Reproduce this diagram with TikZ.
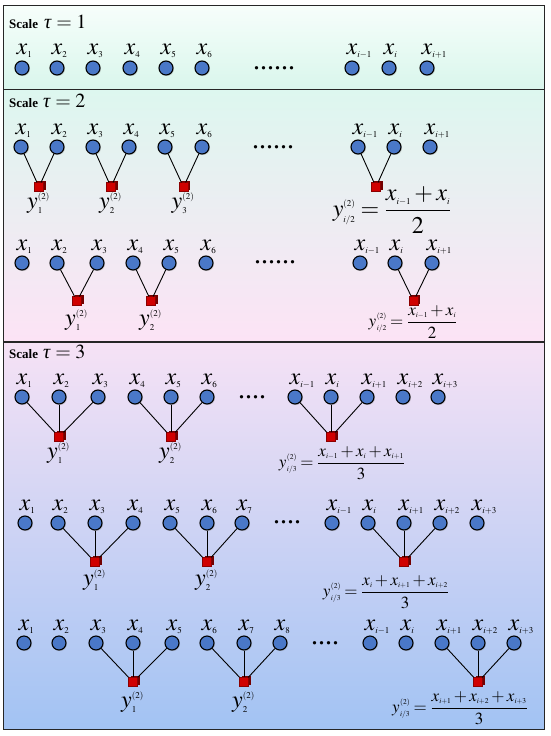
\documentclass[tikz,border=0pt]{standalone}
\usepackage{mathptmx}
\usepackage[no-math]{fontspec}
\setmainfont{Liberation Serif}
\usepackage{tikz}
\usetikzlibrary{shadows}
\definecolor{dotblue}{HTML}{4A78C8}
\definecolor{cubered}{HTML}{D00000}
\definecolor{mintA}{HTML}{F7FEFB}
\definecolor{mintB}{HTML}{D9F6EC}
\definecolor{mintC}{HTML}{DDF7EF}
\definecolor{pinkA}{HTML}{FCE3F5}
\definecolor{pinkB}{HTML}{F6E2F5}
\definecolor{blueB}{HTML}{A2C3F3}
\tikzstyle{dot} = [circle, draw, line width=1.1pt, fill=dotblue, minimum size=14pt,
    inner sep=0pt, drop shadow={shadow xshift=1pt, shadow yshift=-1pt, opacity=0.35}]
\tikzstyle{cube} = [rectangle, draw=red!55!black, line width=0.3pt, fill=cubered,
    minimum size=9pt, inner sep=0pt,
    general shadow={fill=red!45!black, shadow xshift=2pt, shadow yshift=2pt}]
\tikzstyle{line} = [draw, line width=0.9pt]
\tikzstyle{panel} = [draw=black!85, line width=0.8pt]
\newcommand{\smlsize}{9}
\newcommand{\sml}[1]{\mbox{\fontsize{\smlsize}{\smlsize}\selectfont$#1$}}
\newcommand{\yy}[1]{y^{\sml{(2)}}_{\sml{#1}}}
\newcommand{\yys}[1]{y\kern0.5pt\rlap{\raisebox{8.5pt}{\sml{(2)}}}\raisebox{-4pt}{\sml{#1}}}
\newcommand{\tauis}[1]{$\mbox{\textit{τ}}=#1$}

\begin{document}
\begin{tikzpicture}[x=1pt, y=-1pt,
    xlab/.style={anchor=base west, inner sep=0pt, font=\fontsize{24}{28}\selectfont},
    ylab/.style={anchor=base west, inner sep=0pt, font=\fontsize{24}{28}\selectfont},
    bigfrm/.style={inner sep=0pt, font=\fontsize{24}{28}\selectfont},
    frm/.style={inner sep=0pt, font=\fontsize{17}{20}\selectfont\renewcommand{\smlsize}{7.5}},
    head/.style={anchor=base west, inner sep=0pt, font=\fontsize{13}{15}\selectfont},
    dots/.style={inner sep=0pt, font=\fontsize{28}{30}\selectfont}
    ]

    \useasboundingbox (0,0) rectangle (550,736);

    \path[panel, top color=mintA, bottom color=mintB] (3,5) rectangle (544,89);
    \path[panel, top color=mintC, bottom color=pinkA] (3,89) rectangle (544,341);
    \path[panel, top color=pinkB, bottom color=blueB] (3,342) rectangle (544,729);

    \node[head] (h1) at (9,28) {\textbf{Scale}\hspace{6pt}{\fontsize{20}{24}\selectfont\tauis{1}}};
    \node[head] (h2) at (9,107) {\textbf{Scale}\hspace{5pt}{\fontsize{20}{24}\selectfont\tauis{2}}};
    \node[head] (h3) at (9,358) {\textbf{Scale}\hspace{5pt}{\fontsize{20}{24}\selectfont\tauis{3}}};

    % scale 1
    \foreach \px/\nm/\sb in {22/1/1,57/2/2,93/3/3,130/4/4,166/5/5,202/6/6,
                             352/im/i{-}1,389/i0/i,427/i1/i{+}1}{
        \node[dot] (a\nm) at (\px,68) {};
        \node[xlab] (xa\nm) at (\px-5.5,54) {$x_{\sml{\sb}}$};
    }
    \node[dots] (da) at (274,68) {......};

    % scale 2
    \foreach \px/\nm/\sb in {21/1/1,57/2/2,93/3/3,129/4/4,165/5/5,202/6/6,
                             358/im/i{-}1,394/i0/i,430/i1/i{+}1}{
        \node[dot] (b\nm) at (\px,147) {};
        \node[xlab] (xb\nm) at (\px-5.5,134) {$x_{\sml{\sb}}$};
    }
    \node[dots] (db) at (273,147) {......};
    \node[cube] (sb1) at (39,187) {};
    \node[cube] (sb2) at (111,187) {};
    \node[cube] (sb3) at (183.5,187) {};
    \node[cube] (sbi) at (376,187) {};
    \node[ylab] (yb1) at (27,208) {$\yy{1}$};
    \node[ylab] (yb2) at (99,208) {$\yy{2}$};
    \node[ylab] (yb3) at (171.5,208) {$\yy{3}$};
    \node[bigfrm] (fb) at (392,210)
        {$\displaystyle \yy{i/2} = \frac{x_{\sml{i{-}1}} + x_{\sml{i}}}{2}$};
    \foreach \a/\s in {b1/sb1,b2/sb1,b3/sb2,b4/sb2,b5/sb3,b6/sb3,bim/sbi,bi0/sbi}
        \draw[line] (\a) -- (\s);

    \foreach \px/\nm/\sb in {22/1/1,57/2/2,97/3/3,133/4/4,169/5/5,206/6/6,
                             360/im/i{-}1,395/i0/i,432/i1/i{+}1}{
        \node[dot] (c\nm) at (\px,263) {};
        \node[xlab] (xc\nm) at (\px-5.5,250) {$x_{\sml{\sb}}$};
    }
    \node[dots] (dc) at (275,262) {......};
    \node[cube] (sc1) at (77,301) {};
    \node[cube] (sc2) at (151,301) {};
    \node[cube] (sci) at (413.5,301) {};
    \node[ylab] (yc1) at (65,325) {$\yy{1}$};
    \node[ylab] (yc2) at (139,325) {$\yy{2}$};
    \node[frm] (fc) at (413,322)
        {$\displaystyle \yys{i/2} = \frac{x_{\sml{i{-}1}} + x_{\sml{i}}}{2}$};
    \foreach \a/\s in {c2/sc1,c3/sc1,c4/sc2,c5/sc2,ci0/sci,ci1/sci}
        \draw[line] (\a) -- (\s);

    % scale 3
    \foreach \px/\nm/\sb in {22/1/1,59/2/2,98/3/3,135/4/4,171/5/5,207/6/6,
                             295/im/i{-}1,331/i0/i,367/i1/i{+}1,403/i2/i{+}2,438/i3/i{+}3}{
        \node[dot] (d\nm) at (\px,397) {};
        \node[xlab] (xd\nm) at (\px-5.5,384) {$x_{\sml{\sb}}$};
    }
    \node[dots] (dd) at (252,397) {....};
    \node[cube] (sd1) at (59,437) {};
    \node[cube] (sd2) at (171,437) {};
    \node[cube] (sdi) at (331,437) {};
    \node[ylab] (yd1) at (47,458) {$\yy{1}$};
    \node[ylab] (yd2) at (159,458) {$\yy{2}$};
    \node[frm] (fd) at (342,463)
        {$\displaystyle \yys{i/3} = \frac{x_{\sml{i{-}1}} + x_{\sml{i}} + x_{\sml{i{+}1}}}{3}$};
    \foreach \a/\s in {d1/sd1,d2/sd1,d3/sd1,d4/sd2,d5/sd2,d6/sd2,dim/sdi,di0/sdi,di1/sdi}
        \draw[line] (\a) -- (\s);

    \foreach \px/\nm/\sb in {25/1/1,58/2/2,95/3/3,133/4/4,170/5/5,207/6/6,242/7/7,
                             332/im/i{-}1,368/i0/i,404/i1/i{+}1,440/i2/i{+}2,477/i3/i{+}3}{
        \node[dot] (e\nm) at (\px,523) {};
        \node[xlab] (xe\nm) at (\px-5.5,510) {$x_{\sml{\sb}}$};
    }
    \node[dots] (de) at (287,522) {....};
    \node[cube] (se1) at (95,562) {};
    \node[cube] (se2) at (207,562) {};
    \node[cube] (sei) at (404,562) {};
    \node[ylab] (ye1) at (83,585) {$\yy{1}$};
    \node[ylab] (ye2) at (195,585) {$\yy{2}$};
    \node[frm] (fe) at (386,592)
        {$\displaystyle \yys{i/3} = \frac{x_{\sml{i}} + x_{\sml{i{+}1}} + x_{\sml{i{+}2}}}{3}$};
    \foreach \a/\s in {e2/se1,e3/se1,e4/se1,e5/se2,e6/se2,e7/se2,ei0/sei,ei1/sei,ei2/sei}
        \draw[line] (\a) -- (\s);

    \foreach \px/\nm/\sb in {24/1/1,59/2/2,96/3/3,133/4/4,172/5/5,207/6/6,244/7/7,280/8/8,
                             370/im/i{-}1,406/i0/i,442/i1/i{+}1,478/i2/i{+}2,514/i3/i{+}3}{
        \node[dot] (f\nm) at (\px,643) {};
        \node[xlab] (xf\nm) at (\px-5.5,630) {$x_{\sml{\sb}}$};
    }
    \node[dots] (df) at (325,643) {....};
    \node[cube] (sf1) at (133,682) {};
    \node[cube] (sf2) at (244,682) {};
    \node[cube] (sfi) at (478,682) {};
    \node[ylab] (yf1) at (121,707) {$\yy{1}$};
    \node[ylab] (yf2) at (232,707) {$\yy{2}$};
    \node[frm] (ff) at (460,708)
        {$\displaystyle \yys{i/3} = \frac{x_{\sml{i{+}1}} + x_{\sml{i{+}2}} + x_{\sml{i{+}3}}}{3}$};
    \foreach \a/\s in {f3/sf1,f4/sf1,f5/sf1,f6/sf2,f7/sf2,f8/sf2,fi1/sfi,fi2/sfi,fi3/sfi}
        \draw[line] (\a) -- (\s);
\end{tikzpicture}
\end{document}
